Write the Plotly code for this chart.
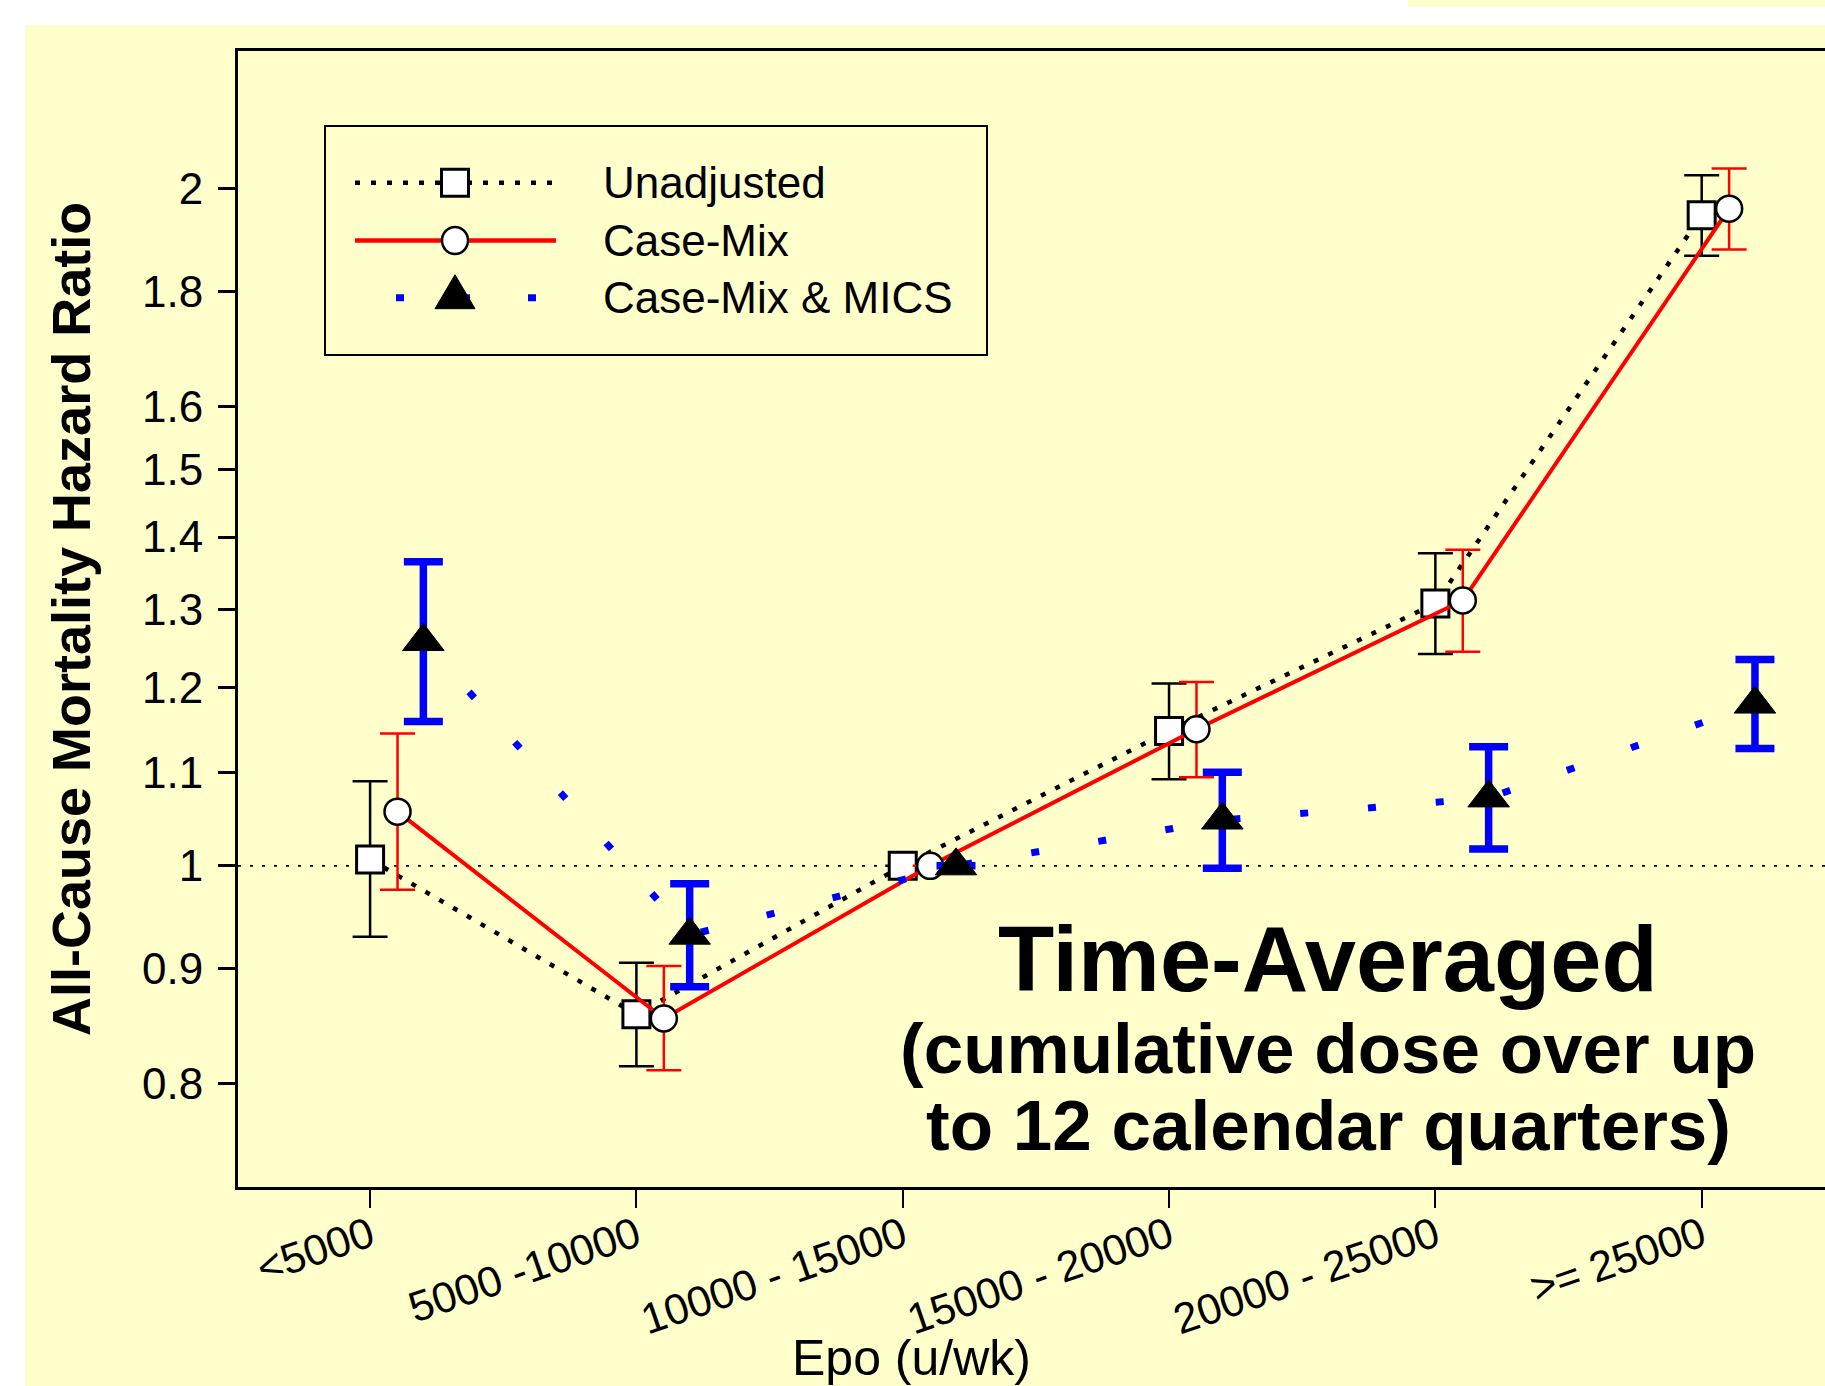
import math
import plotly.graph_objects as go

# ---------------- data ----------------
categories = ["<5000", "5000 -10000", "10000 - 15000", "15000 - 20000",
              "20000 - 25000", ">= 25000"]

unadj = [1.0065, 0.859, 1.0, 1.148, 1.308, 1.946]
unadj_hi = [1.0905, 0.9055, None, 1.205, 1.377, 2.027]
unadj_lo = [0.930, 0.8146, None, 1.0927, 1.242, 1.867]

casemix = [1.057, 0.8554, 1.0, 1.150, 1.312, 1.959]
casemix_hi = [1.145, 0.9026, None, 1.207, 1.382, 2.041]
casemix_lo = [0.9757, 0.8113, None, 1.095, 1.245, 1.879]

mics = [1.258, 0.9315, 1.0, 1.048, 1.072, 1.180]
mics_hi = [1.365, 0.9818, None, 1.1005, 1.1297, 1.235]
mics_lo = [1.159, 0.8836, None, 0.9975, 1.0174, 1.1275]

y_ticks = [0.8, 0.9, 1, 1.1, 1.2, 1.3, 1.4, 1.5, 1.6, 1.8, 2]
y_ticktext = ["0.8", "0.9", "1", "1.1", "1.2", "1.3", "1.4", "1.5", "1.6", "1.8", "2"]

series_names = ["Unadjusted", "Case-Mix", "Case-Mix & MICS"]

# ---------------- layout constants ----------------
W, H = 1825, 1386
L, R, T, B = 238, 1825, 51, 1187
YELLOW = "#FFFFCC"
FONT = "Arial, Liberation Sans, sans-serif"
x_range = [-0.496, 5.463]
y_range = [math.log10(0.7199), math.log10(2.302)]


def pxx(x):
    return (x - L) / (R - L)


def pyy(y):
    return (B - y) / (B - T)


def err(hi, lo, v):
    plus = [None if h is None else h - c for h, c in zip(hi, v)]
    minus = [None if l is None else c - l for l, c in zip(lo, v)]
    return plus, minus


xs = list(range(len(categories)))

fig = go.Figure()

# reference line at HR = 1
fig.add_trace(go.Scatter(
    x=x_range, y=[1, 1], mode="lines",
    line=dict(color="black", width=1.8, dash="3px,9px"),
    hoverinfo="skip", showlegend=False))

# Unadjusted
p, m = err(unadj_hi, unadj_lo, unadj)
fig.add_trace(go.Scatter(
    x=[i + 0.0 for i in xs], y=unadj, mode="lines+markers", name=series_names[0],
    line=dict(color="black", width=4.5, dash="5px,11px"),
    marker=dict(symbol="square", size=27, color="white",
                line=dict(color="black", width=3)),
    error_y=dict(type="data", array=p, arrayminus=m, color="black",
                 thickness=2.5, width=17.5),
    showlegend=False))

# Case-Mix
p, m = err(casemix_hi, casemix_lo, casemix)
fig.add_trace(go.Scatter(
    x=[i + 0.103 for i in xs], y=casemix, mode="lines+markers", name=series_names[1],
    line=dict(color="#FF0000", width=4),
    marker=dict(symbol="circle", size=26, color="white",
                line=dict(color="black", width=2.5)),
    error_y=dict(type="data", array=p, arrayminus=m, color="#FF0000",
                 thickness=2.5, width=17.5),
    showlegend=False))

# Case-Mix & MICS
p, m = err(mics_hi, mics_lo, mics)
fig.add_trace(go.Scatter(
    x=[i + 0.2 for i in xs], y=mics, mode="lines+markers", name=series_names[2],
    line=dict(color="#0000FF", width=7, dash="8px,60px"),
    marker=dict(symbol="triangle-up", size=36, color="black",
                line=dict(color="black", width=1)),
    error_y=dict(type="data", array=p, arrayminus=m, color="#0000FF",
                 thickness=7.5, width=19.5),
    showlegend=False))

shapes = []
# yellow panel
shapes.append(dict(type="rect", xref="paper", yref="paper",
                   x0=pxx(25), x1=pxx(1830), y0=pyy(25), y1=pyy(1400),
                   fillcolor=YELLOW, line=dict(width=0), layer="below"))
shapes.append(dict(type="rect", xref="paper", yref="paper",
                   x0=pxx(1408), x1=pxx(1830), y0=pyy(-5), y1=pyy(7),
                   fillcolor=YELLOW, line=dict(width=0), layer="below"))

# legend box
shapes.append(dict(type="rect", xref="paper", yref="paper",
                   x0=pxx(325), x1=pxx(987), y0=pyy(126), y1=pyy(355),
                   fillcolor=YELLOW, line=dict(color="black", width=2), layer="above"))
rows = [182.7, 240.5, 297.7]
# legend samples
shapes.append(dict(type="line", xref="paper", yref="paper",
                   x0=pxx(355), x1=pxx(556), y0=pyy(rows[0]), y1=pyy(rows[0]),
                   line=dict(color="black", width=4.5, dash="5px,11px"), layer="above"))
shapes.append(dict(type="rect", xref="paper", yref="paper",
                   x0=pxx(441.5), x1=pxx(468.5), y0=pyy(rows[0] - 13.5), y1=pyy(rows[0] + 13.5),
                   fillcolor="white", line=dict(color="black", width=3), layer="above"))
shapes.append(dict(type="line", xref="paper", yref="paper",
                   x0=pxx(355), x1=pxx(556), y0=pyy(rows[1]), y1=pyy(rows[1]),
                   line=dict(color="#FF0000", width=4.5), layer="above"))
shapes.append(dict(type="circle", xref="paper", yref="paper",
                   x0=pxx(442), x1=pxx(468), y0=pyy(rows[1] - 13.5), y1=pyy(rows[1] + 13.5),
                   fillcolor="white", line=dict(color="black", width=2.5), layer="above"))
shapes.append(dict(type="line", xref="paper", yref="paper",
                   x0=pxx(396), x1=pxx(537), y0=pyy(rows[2]), y1=pyy(rows[2]),
                   line=dict(color="#0000FF", width=7, dash="8px,58px"), layer="above"))
tri = "M {},{} L {},{} L {},{} Z".format(
    pxx(455), pyy(rows[2] - 23), pxx(435), pyy(rows[2] + 11), pxx(475), pyy(rows[2] + 11))
shapes.append(dict(type="path", xref="paper", yref="paper", path=tri,
                   fillcolor="black", line=dict(color="black", width=1), layer="above"))

annotations = []
for name, ry in zip(series_names, rows):
    annotations.append(dict(text=name, xref="paper", yref="paper",
                            x=pxx(601), y=pyy(ry), xanchor="left", yanchor="middle",
                            showarrow=False, font=dict(family=FONT, size=44, color="black")))

annotations.append(dict(text="Time-Averaged", xref="paper", yref="paper",
                        x=pxx(1328), y=pyy(959), xanchor="center", yanchor="middle",
                        showarrow=False,
                        font=dict(family=FONT, size=92, color="black", weight="bold")))
annotations.append(dict(text="(cumulative dose over up", xref="paper", yref="paper",
                        x=pxx(1328), y=pyy(1048), xanchor="center", yanchor="middle",
                        showarrow=False,
                        font=dict(family=FONT, size=71, color="black", weight="bold")))
annotations.append(dict(text="to 12 calendar quarters)", xref="paper", yref="paper",
                        x=pxx(1328), y=pyy(1125), xanchor="center", yanchor="middle",
                        showarrow=False,
                        font=dict(family=FONT, size=71, color="black", weight="bold")))

annotations.append(dict(text="All-Cause Mortality Hazard Ratio", xref="paper", yref="paper",
                        x=pxx(71), y=pyy(619), xanchor="center", yanchor="middle",
                        textangle=-90, showarrow=False,
                        font=dict(family=FONT, size=54, color="black", weight="bold")))
annotations.append(dict(text="Epo (u/wk)", xref="paper", yref="paper",
                        x=pxx(911), y=pyy(1358), xanchor="center", yanchor="middle",
                        showarrow=False, font=dict(family=FONT, size=50, color="black")))

fig.update_layout(
    width=W, height=H,
    margin=dict(l=L, r=W - R, t=T, b=H - B, pad=0),
    paper_bgcolor="white", plot_bgcolor=YELLOW,
    showlegend=False,
    font=dict(family=FONT, color="black"),
    shapes=shapes, annotations=annotations,
    xaxis=dict(range=x_range, tickmode="array", tickvals=xs, ticktext=categories,
               tickangle=-19, ticks="outside", ticklen=18, tickwidth=2, tickcolor="black",
               showline=True, linewidth=3, linecolor="black", mirror=True,
               showgrid=False, zeroline=False, automargin=False,
               ticklabelstandoff=-14,
               tickfont=dict(family=FONT, size=43, color="black")),
    yaxis=dict(type="log", range=y_range, tickmode="array", tickvals=y_ticks,
               ticktext=y_ticktext, ticks="outside", ticklen=17, tickwidth=2.5,
               tickcolor="black", showline=True, linewidth=3, linecolor="black",
               mirror=False, showgrid=False, zeroline=False, automargin=False,
               ticklabelstandoff=6,
               tickfont=dict(family=FONT, size=44, color="black")),
)

fig.write_html("out.html", config={"displayModeBar": False},
               post_script="document.body.style.margin='0';document.body.style.overflow='hidden';")
